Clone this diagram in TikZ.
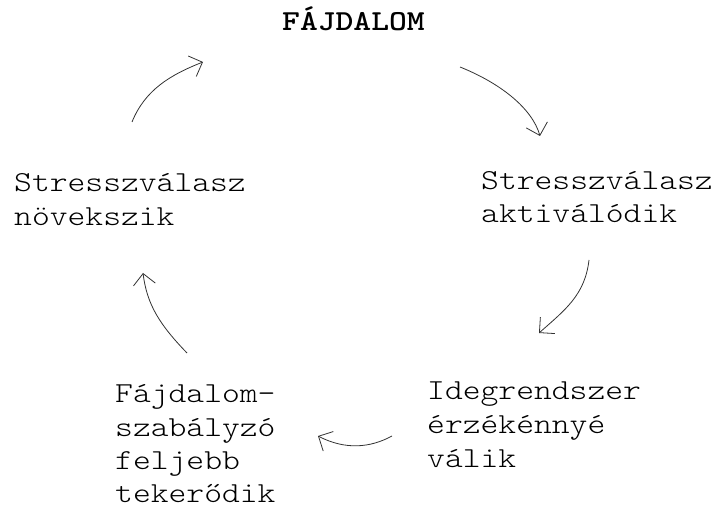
\documentclass[tikz,border=0pt]{standalone}
\usepackage{fontspec}
\usetikzlibrary{arrows.meta}
\newcommand{\wdtxt}[1]{\scalebox{1.17}[1]{#1}}
\begin{document}
\begin{tikzpicture}[x=1pt,y=-1pt,
  lbl/.style={anchor=base west,inner sep=0pt,font=\ttfamily\fontseries{l}\fontsize{29}{34}\selectfont},
  ttl/.style={anchor=base west,inner sep=0pt,font=\ttfamily\fontseries{b}\fontsize{29}{34}\selectfont},
  cyc/.style={draw=black!80,line width=0.8pt,-{Straight Barb[length=11pt,width=22pt,line width=0.8pt]}}]
\useasboundingbox (0,0) rectangle (718,510);
\node[ttl] (t) at (282,31) {\wdtxt{FÁJDALOM}};
\node[lbl] (a1) at (481,190) {\wdtxt{Stresszválasz}};
\node[lbl] (a2) at (481,223) {\wdtxt{aktiválódik}};
\node[lbl] (b1) at (427,400) {\wdtxt{Idegrendszer}};
\node[lbl] (b2) at (427,434) {\wdtxt{érzékénnyé}};
\node[lbl] (b3) at (427,468) {\wdtxt{válik}};
\node[lbl] (c1) at (115,403) {\wdtxt{Fájdalom-}};
\node[lbl] (c2) at (115,437) {\wdtxt{szabályzó}};
\node[lbl] (c3) at (115,470) {\wdtxt{feljebb}};
\node[lbl] (c4) at (115,503) {\wdtxt{tekerődik}};
\node[lbl] (d1) at (14,192) {\wdtxt{Stresszválasz}};
\node[lbl] (d2) at (14,226) {\wdtxt{növekszik}};
\coordinate (p1s) at (132,122); \coordinate (p1e) at (203,62);
\coordinate (p2s) at (460,67);  \coordinate (p2e) at (540,136);
\coordinate (p3s) at (589,260); \coordinate (p3e) at (539,333);
\coordinate (p4s) at (392,436); \coordinate (p4e) at (318,436);
\coordinate (p5s) at (187,353); \coordinate (p5e) at (143,273);
\draw[cyc] (p1s) .. controls (145,90) and (170,75) .. (p1e);
\draw[cyc] (p2s) .. controls (500,83) and (532,108) .. (p2e);
\draw[cyc] (p3s) .. controls (585,295) and (565,310) .. (p3e);
\draw[cyc] (p4s) .. controls (370,448) and (345,450) .. (p4e);
\draw[cyc] (p5s) .. controls (160,325) and (147,305) .. (p5e);
\end{tikzpicture}
\end{document}
